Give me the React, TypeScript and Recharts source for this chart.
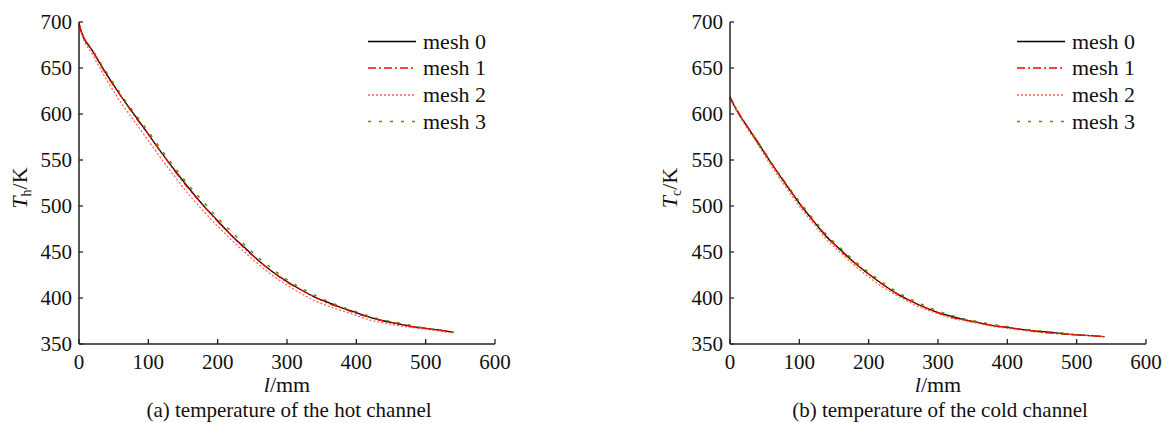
import React from 'react';
import { LineChart, Line, XAxis, YAxis } from 'recharts';

// ---- data ----
const hotX = [0, 3, 20, 40, 60, 80, 100, 120, 140, 160, 180, 200, 220, 240, 260, 280, 300, 320, 340, 360, 380, 400, 420, 440, 460, 480, 500, 520, 540];
const hotMesh0 = [698, 690, 668, 643, 620, 599, 578, 557, 537, 518, 500, 484, 468, 454, 440, 428, 418, 409, 401, 395, 389, 384, 379, 375, 372, 369, 367, 365, 363];
const hotMesh1 = [699, 691, 668, 642, 620, 598, 578, 557, 536, 517, 500, 483, 468, 453, 440, 428, 417, 409, 401, 394, 389, 383, 379, 375, 372, 369, 367, 365, 363];
const hotMesh2 = [698, 689, 664, 637, 613, 592, 571, 550, 530, 511, 494, 478, 463, 449, 436, 424, 414, 405, 397, 391, 386, 381, 376, 373, 370, 368, 366, 364, 362];
const hotMesh3 = [698, 691, 669, 645, 622, 601, 581, 560, 540, 521, 504, 487, 472, 457, 443, 431, 420, 411, 403, 396, 390, 385, 380, 376, 373, 370, 367, 365, 363];

const coldX = [0, 4, 12, 20, 40, 60, 80, 100, 120, 140, 160, 180, 200, 220, 240, 260, 280, 300, 320, 340, 360, 380, 400, 420, 440, 460, 480, 500, 520, 540];
const coldMesh0 = [618, 612, 601, 592, 569, 546, 524, 503, 484, 466, 452, 438, 426, 415, 405, 397, 390, 384, 380, 376, 373, 370, 368, 366, 364, 363, 361, 360, 359, 358];
const coldMesh1 = [619, 613, 602, 592, 570, 546, 525, 503, 484, 467, 451, 438, 426, 415, 405, 397, 390, 384, 379, 376, 373, 370, 368, 366, 364, 362, 361, 360, 359, 358];
const coldMesh2 = [617, 611, 600, 590, 567, 543, 521, 500, 481, 463, 449, 435, 423, 412, 403, 395, 388, 383, 378, 375, 372, 369, 367, 365, 363, 362, 361, 360, 359, 358];
const coldMesh3 = [618, 612, 601, 592, 570, 547, 525, 505, 486, 468, 454, 440, 428, 417, 407, 399, 392, 386, 381, 377, 374, 371, 369, 366, 365, 363, 362, 360, 359, 358];

const xTicks = [0, 100, 200, 300, 400, 500, 600];
const yTicks = [350, 400, 450, 500, 550, 600, 650, 700];
const seriesNames = ['mesh 0', 'mesh 1', 'mesh 2', 'mesh 3'];

const FONT = '"Liberation Serif", "Times New Roman", serif';

function buildRows(xs: number[], s0: number[], s1: number[], s2: number[], s3: number[]) {
  return xs.map((x, i) => ({ x, m0: s0[i], m1: s1[i], m2: s2[i], m3: s3[i] }));
}

const hotRows = buildRows(hotX, hotMesh0, hotMesh1, hotMesh2, hotMesh3);
const coldRows = buildRows(coldX, coldMesh0, coldMesh1, coldMesh2, coldMesh3);

type Style = { color: string; dash?: string; width: number };

const makeStyles = (dotColor: string): Style[] => [
  { color: '#000000', width: 1.3 },
  { color: '#ff0000', dash: '8 3 2 3', width: 1.3 },
  { color: dotColor, dash: '2 2', width: 1.2 },
  { color: '#5f8f00', dash: '3 8', width: 1.5 },
];

const AXIS = '#222';
const tickStyle = { fill: '#111', fontSize: 21, fontFamily: FONT };

function Panel({ rows, styles, marginLeft, marginRight }: { rows: any[]; styles: Style[]; marginLeft: number; marginRight: number }) {
  const keys = ['m0', 'm1', 'm2', 'm3'];
  const order = [0, 2, 3, 1];
  return (
    <LineChart
      width={marginLeft + 60 + 416 + marginRight}
      height={423}
      data={rows}
      margin={{ top: 22, right: marginRight, bottom: 49, left: marginLeft }}
    >
      <XAxis
        xAxisId="b"
        dataKey="x"
        type="number"
        domain={[0, 600]}
        ticks={xTicks}
        interval={0}
        height={30}
        tickSize={-5}
        tickMargin={15}
        tick={tickStyle}
        stroke={AXIS}
        axisLine={{ stroke: AXIS, strokeWidth: 1.5 }}
        tickLine={{ stroke: AXIS, strokeWidth: 1.3 }}
      />
      <XAxis
        xAxisId="t"
        dataKey="x"
        type="number"
        domain={[0, 600]}
        orientation="top"
        height={0}
        tick={false}
        tickLine={false}
        axisLine={{ stroke: AXIS, strokeWidth: 1.5 }}
      />
      <YAxis
        yAxisId="l"
        type="number"
        domain={[350, 700]}
        ticks={yTicks}
        interval={0}
        width={60}
        tickSize={-4}
        tickMargin={11}
        tick={tickStyle}
        axisLine={{ stroke: AXIS, strokeWidth: 1.5 }}
        tickLine={{ stroke: AXIS, strokeWidth: 1.3 }}
      />
      <YAxis
        yAxisId="r"
        type="number"
        domain={[350, 700]}
        orientation="right"
        width={0}
        tick={false}
        tickLine={false}
        axisLine={{ stroke: AXIS, strokeWidth: 1.5 }}
      />
      {order.map((i) => (
        <Line
          key={keys[i]}
          xAxisId="b"
          yAxisId="l"
          type="monotone"
          dataKey={keys[i]}
          name={seriesNames[i]}
          stroke={styles[i].color}
          strokeWidth={styles[i].width}
          strokeDasharray={styles[i].dash}
          dot={false}
          activeDot={false}
          isAnimationActive={false}
        />
      ))}
    </LineChart>
  );
}

function LegendBox({ left, styles }: { left: number; styles: Style[] }) {
  const rowsY = [41.5, 68, 95, 121.5];
  return (
    <svg style={{ position: 'absolute', left, top: 0 }} width={130} height={140}>
      {seriesNames.map((n, i) => (
        <g key={n}>
          <line x1={0} x2={48} y1={rowsY[i]} y2={rowsY[i]} stroke={styles[i].color} strokeWidth={1.3} strokeDasharray={styles[i].dash} />
          <text x={55} y={rowsY[i]} dy="0.33em" fontSize={22} fontFamily={FONT} fill="#111">{n}</text>
        </g>
      ))}
    </svg>
  );
}

const abs = (left: number, top: number, extra: React.CSSProperties = {}): React.CSSProperties => ({
  position: 'absolute',
  left,
  top,
  transform: 'translate(-50%, -50%)',
  whiteSpace: 'nowrap',
  fontFamily: FONT,
  color: '#111',
  ...extra,
});

export default function App() {
  const hotStyles = makeStyles('#ff5c5c');
  const coldStyles = makeStyles('#ff6a33');
  return (
    <div style={{ position: 'absolute', left: 0, top: 0, width: 1163, height: 423, background: '#fff', fontFamily: FONT }}>
      <div style={{ position: 'absolute', left: 0, top: 0 }}>
        <Panel rows={hotRows} styles={hotStyles} marginLeft={19} marginRight={65} />
      </div>
      <div style={{ position: 'absolute', left: 600, top: 0 }}>
        <Panel rows={coldRows} styles={coldStyles} marginLeft={70} marginRight={17} />
      </div>
      <LegendBox left={368} styles={hotStyles} />
      <LegendBox left={1017} styles={coldStyles} />

      <div style={abs(21, 188, { transform: 'translate(-50%, -50%) rotate(-90deg)', fontSize: 22 })}>
        <i>T</i><sub style={{ fontSize: 14, verticalAlign: '-0.3em' }}>h</sub>/K
      </div>
      <div style={abs(671, 188, { transform: 'translate(-50%, -50%) rotate(-90deg)', fontSize: 22 })}>
        <i>T</i><sub style={{ fontSize: 14, verticalAlign: '-0.3em' }}>c</sub>/K
      </div>
      <div style={abs(287, 385, { fontSize: 22 })}>
        <i>l</i>/mm
      </div>
      <div style={abs(938, 385, { fontSize: 22 })}>
        <i>l</i>/mm
      </div>
      <div style={abs(289, 410, { fontSize: 21 })}>(a) temperature of the hot channel</div>
      <div style={abs(940, 410, { fontSize: 21 })}>(b) temperature of the cold channel</div>
    </div>
  );
}
